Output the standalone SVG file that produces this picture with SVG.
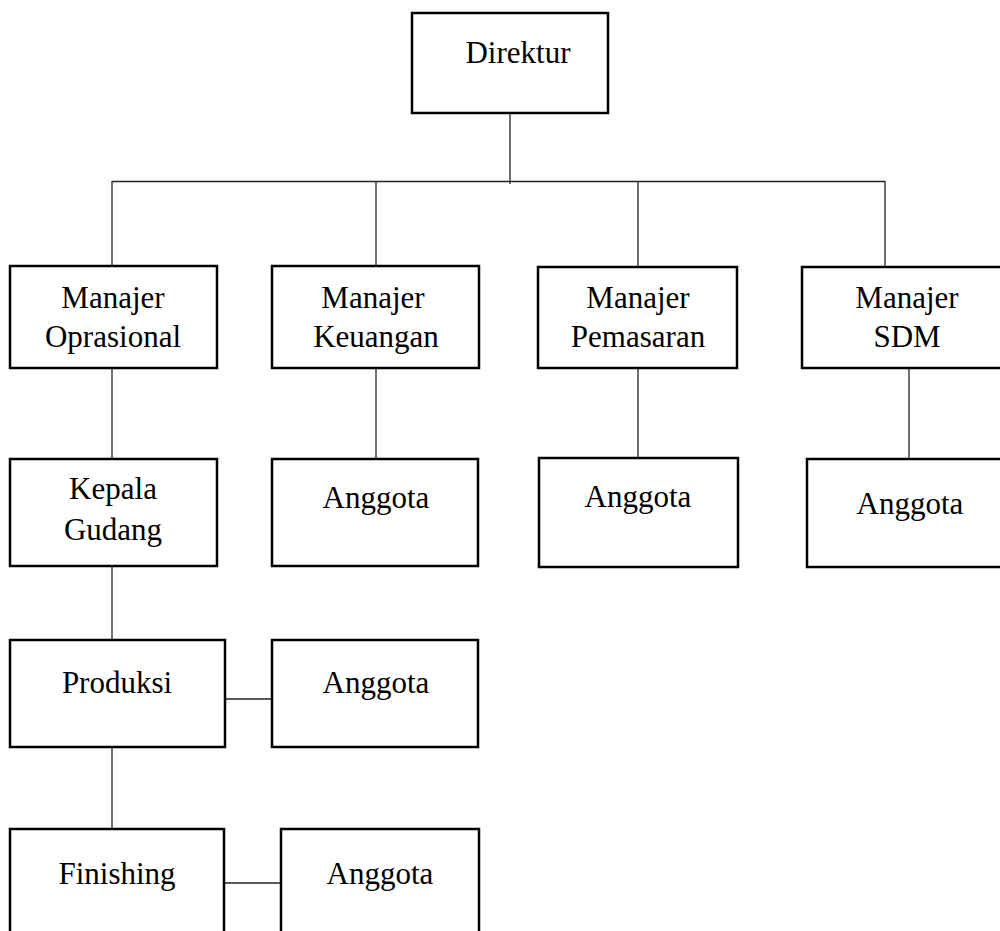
<svg xmlns="http://www.w3.org/2000/svg" width="1000" height="931" viewBox="0 0 1000 931">
<style>
.box{fill:#fff;stroke:#000;stroke-width:2.5}
.ln{fill:none;stroke:#222;stroke-width:1.3}
text{font-family:"Liberation Serif","Times New Roman",serif;font-size:31px;fill:#000;text-anchor:middle}
</style>
<rect width="1000" height="931" fill="#fff"/>
<g id="connectors">
<line class="ln" x1="510" y1="113" x2="510" y2="184"/>
<line class="ln" x1="112" y1="181.5" x2="885" y2="181.5"/>
<line class="ln" x1="112" y1="181" x2="112" y2="266"/>
<line class="ln" x1="376" y1="181" x2="376" y2="266"/>
<line class="ln" x1="638" y1="181" x2="638" y2="266"/>
<line class="ln" x1="885" y1="181" x2="885" y2="266"/>
<line class="ln" x1="112" y1="368" x2="112" y2="459"/>
<line class="ln" x1="376" y1="368" x2="376" y2="459"/>
<line class="ln" x1="638" y1="368" x2="638" y2="458"/>
<line class="ln" x1="909" y1="368" x2="909" y2="459"/>
<line class="ln" x1="112" y1="566" x2="112" y2="640"/>
<line class="ln" x1="112" y1="747" x2="112" y2="829"/>
<line class="ln" x1="225" y1="699" x2="272" y2="699"/>
<line class="ln" x1="224" y1="883" x2="281" y2="883"/>
</g>
<g id="direktur"><rect class="box" x="412" y="13" width="196" height="100"/><text x="518" y="63">Direktur</text></g>
<g id="manajer-oprasional"><rect class="box" x="10" y="266" width="207" height="102"/><text x="113" y="308">Manajer</text><text x="113" y="347">Oprasional</text></g>
<g id="manajer-keuangan"><rect class="box" x="272" y="266" width="207" height="102"/><text x="373" y="308">Manajer</text><text x="376" y="347">Keuangan</text></g>
<g id="manajer-pemasaran"><rect class="box" x="538" y="267" width="199" height="101"/><text x="638" y="308">Manajer</text><text x="638" y="347">Pemasaran</text></g>
<g id="manajer-sdm"><rect class="box" x="802" y="267" width="210" height="101"/><text x="907" y="308">Manajer</text><text x="907" y="347">SDM</text></g>
<g id="kepala-gudang"><rect class="box" x="10" y="459" width="207" height="107"/><text x="113" y="499">Kepala</text><text x="113" y="540">Gudang</text></g>
<g id="anggota-keuangan"><rect class="box" x="272" y="459" width="206" height="107"/><text x="376" y="508">Anggota</text></g>
<g id="anggota-pemasaran"><rect class="box" x="539" y="458" width="199" height="109"/><text x="638" y="507">Anggota</text></g>
<g id="anggota-sdm"><rect class="box" x="807" y="459" width="205" height="108"/><text x="910" y="514">Anggota</text></g>
<g id="produksi"><rect class="box" x="10" y="640" width="215" height="107"/><text x="117" y="693">Produksi</text></g>
<g id="anggota-produksi"><rect class="box" x="272" y="640" width="206" height="107"/><text x="376" y="693">Anggota</text></g>
<g id="finishing"><rect class="box" x="10" y="829" width="214" height="120"/><text x="117" y="884">Finishing</text></g>
<g id="anggota-finishing"><rect class="box" x="281" y="829" width="198" height="120"/><text x="380" y="884">Anggota</text></g>
</svg>
